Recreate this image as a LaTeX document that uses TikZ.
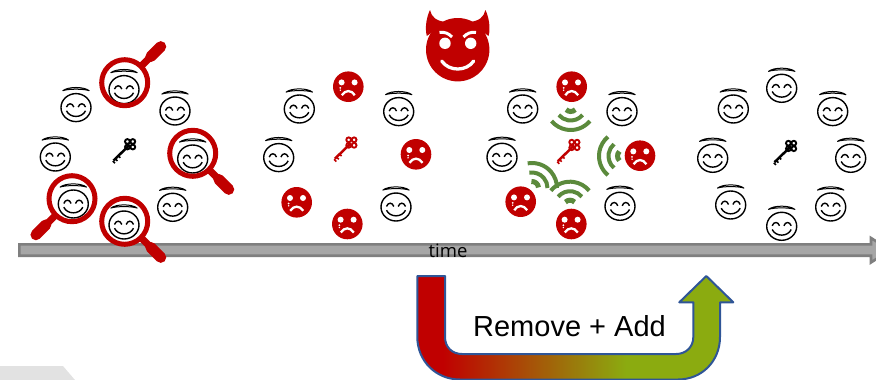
\documentclass[tikz,border=0pt]{standalone}
\usepackage{fontspec}
\setmainfont{Liberation Sans}
\newfontfamily\timefont{Open Sans}
\usetikzlibrary{calc}

\definecolor{badred}{HTML}{C00000}
\definecolor{wavegreen}{HTML}{5B8A3C}
\definecolor{goodgreen}{HTML}{8BAB10}
\definecolor{arrowblue}{HTML}{2F5597}
\definecolor{bargray}{HTML}{A6A6A6}
\definecolor{baredge}{HTML}{7F7F7F}
\definecolor{cornergray}{HTML}{E2E2E2}

\pgfdeclarehorizontalshading{redtogreen}{100bp}{
    color(0bp)=(badred); color(29bp)=(badred); color(58bp)=(goodgreen); color(100bp)=(goodgreen)}

\begin{document}
\begin{tikzpicture}[
        x=1pt, y=-1pt,
        facestroke/.style={draw=black, line width=1.4pt},
        timebar/.style={draw=baredge, line width=2.6pt, fill=bargray, miter limit=10},
        timelabel/.style={font=\timefont\fontsize{18.5}{20}\selectfont, text=black, inner sep=0pt},
        addlabel/.style={font=\fontsize{29}{34}\selectfont, text=black, inner sep=0pt},
        uarrow/.style={draw=arrowblue, line width=2pt, shading=redtogreen, line join=round},
        pics/angel/.style={code={
            \draw[facestroke] (0,2.3) ellipse (15 and 14);
            \draw[facestroke] (-9.5,1.8) .. controls (-8,-2.6) and (-3.6,-2.6) .. (-2.2,1.8);
            \draw[facestroke] (2.2,1.8) .. controls (3.6,-2.6) and (8,-2.6) .. (9.5,1.8);
            \draw[facestroke] (-9.5,5.5) .. controls (-6,13) and (6,13) .. (9.5,5.5);
            \draw[black, line width=1pt, line join=round] (-13.2,-14.6) .. controls (-8,-18.9) and (8,-18.9) .. (13.2,-14.6) .. controls (8,-16.6) and (-8,-16.6) .. cycle;
        }},
        pics/sadface/.style={code={
            \fill[badred] (0,0) circle (15.3);
            \fill[white] (-6.7,-4.3) circle (3);
            \fill[white] (6.3,-4.3) circle (3);
            \fill[white] (-8,1.2) circle (1);
            \fill[white] (-8,3.5) circle (.8);
            \draw[white, line width=2.3pt] (-6.5,8.5) .. controls (-3,3) and (3,3) .. (6.5,8.5);
        }},
        pics/clefkey/.style={code={
            \draw[line width=2.5pt] (5,-4.5) -- (-10.5,10.5);
            \draw[line width=1.6pt] (-8.8,8.8) -- (-6.6,11);
            \draw[line width=1.6pt] (-11.2,11) -- (-9,13.2);
            \draw[line width=1.6pt] (-5.8,5.8) -- (-3.8,7.8);
            \draw[line width=1.9pt] (3.4,-8.5) circle (2.4);
            \draw[line width=1.9pt] (8.8,-8.5) circle (2.4);
            \draw[line width=1.9pt] (3.4,-3) circle (2.4);
            \draw[line width=1.9pt] (8.8,-3) circle (2.4);
        }},
        pics/lens/.style={code={
            \draw[badred, line width=5pt] (0,0) circle (23);
            \draw[badred, line width=7pt] (24,0) -- (37,0);
            \draw[badred, line width=11pt, line cap=round] (37,0) -- (51,0);
        }},
        pics/signal/.style={code={
            \draw[wavegreen, line width=5pt] (-45:6.5) arc[start angle=-45, end angle=45, radius=6.5];
            \draw[wavegreen, line width=4pt] (-50:15.5) arc[start angle=-50, end angle=50, radius=15.5];
            \draw[wavegreen, line width=4pt] (-50:25) arc[start angle=-50, end angle=50, radius=25];
        }},
    ]
    \useasboundingbox (0,0) rectangle (876,380);

    \fill[cornergray] (0,366) -- (63,366) -- (75,380) -- (0,380) -- cycle;

    % time axis
    \draw[timebar] (19.3,244.3) -- (871,244.3) -- (871,238) -- (890,250) -- (871,262.5) -- (871,255.7) -- (19.3,255.7) -- cycle;
    \node[timelabel] (time) at (448,250.5) {time};

    % before
    \pic at (76,105.3) {angel};
    \pic at (124,87.3) {angel};
    \pic at (175,108.7) {angel};
    \pic at (55.3,154.7) {angel};
    \pic at (192.7,156.7) {angel};
    \pic at (73.3,201.7) {angel};
    \pic at (172.7,205) {angel};
    \pic at (124,222.7) {angel};
    \pic[color=black] at (124,150) {clefkey};
    \pic[rotate=45] at (124.7,82.7) {lens};
    \pic[rotate=-45] at (192.7,153.3) {lens};
    \pic[rotate=-135] at (72,198.7) {lens};
    \pic[rotate=-45] at (124.7,221.3) {lens};

    % corrupted
    \pic at (348.3,86.7) {sadface};
    \pic at (416,154.3) {sadface};
    \pic at (296.7,202.3) {sadface};
    \pic at (347.3,224) {sadface};
    \pic at (299.3,106.7) {angel};
    \pic at (398.7,109.3) {angel};
    \pic at (278.7,155.3) {angel};
    \pic at (396,204.7) {angel};
    \pic[color=badred] at (345.3,148.3) {clefkey};

    % devil
    \fill[badred] (457.7,49.7) circle (31.7);
    \fill[badred] (426.8,36) .. controls (424.5,27) and (427,16) .. (430,10) .. controls (431.5,17) and (436,21) .. (446,22) -- cycle;
    \fill[badred] (488.6,36) .. controls (490.9,27) and (488.4,16) .. (485.4,10) .. controls (483.9,17) and (479.4,21) .. (469.4,22) -- cycle;
    \fill[white] (445,43.3) circle (5.7);
    \fill[white] (470.7,43.3) circle (5.7);
    \draw[white, line width=3pt] (439.5,32.5) .. controls (444,31.5) and (449,33.5) .. (452,37);
    \draw[white, line width=3pt] (476,32.5) .. controls (471.5,31.5) and (466.5,33.5) .. (463.5,37);
    \draw[white, line width=3.3pt, line cap=round] (441.7,61) .. controls (449,71.7) and (466.4,71.7) .. (473.7,61);

    % attacked
    \pic at (571.7,86.7) {sadface};
    \pic at (640,155.7) {sadface};
    \pic at (520.7,201.7) {sadface};
    \pic at (571.3,224) {sadface};
    \pic at (522.7,106.7) {angel};
    \pic at (622,109.3) {angel};
    \pic at (502,155) {angel};
    \pic at (620,204) {angel};
    \pic[color=badred] at (568.3,150.7) {clefkey};
    \pic[rotate=-90] at (570.7,105) {signal};
    \pic[rotate=180] at (624,156) {signal};
    \pic[rotate=90] at (570,206.7) {signal};
    \pic[rotate=50] at (532,188) {signal};

    % after
    \pic at (781.7,86) {angel};
    \pic at (733.3,106.7) {angel};
    \pic at (832.7,109.3) {angel};
    \pic at (712.7,156) {angel};
    \pic at (850.7,156) {angel};
    \pic at (730.7,202.7) {angel};
    \pic at (830.7,204.7) {angel};
    \pic at (781.7,224) {angel};
    \pic[color=black] at (785,151.7) {clefkey};

    % remove and add
    \path[uarrow] (417.3,276) -- (417.3,337) .. controls (417.3,361) and (436,379.5) .. (460,379.5)
        -- (678,379.5) .. controls (702,379.5) and (720,361) .. (720,337) -- (720,302.3) -- (733.3,302.3)
        -- (706.3,276) -- (679.3,302.3) -- (693.3,302.3) -- (693.3,337) .. controls (693.3,347) and (686,354) .. (676,354)
        -- (462,354) .. controls (452,354) and (445,347) .. (445,337) -- (445,276) -- cycle;
    \node[addlabel] (removeadd) at (569.5,326) {Remove + Add};
\end{tikzpicture}
\end{document}
